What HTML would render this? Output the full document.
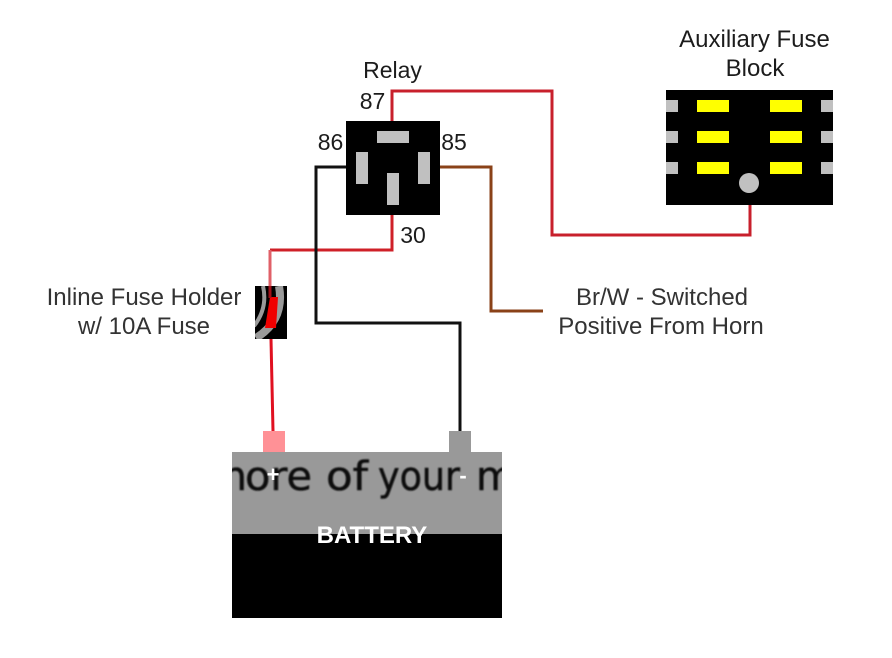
<!DOCTYPE html>
<html><head><meta charset="utf-8"><style>
html,body{margin:0;padding:0;background:#fff}
svg{display:block}
text{font-family:"Liberation Sans",sans-serif;font-size:24px;fill:#1c1c1c}
.big{font-family:"DejaVu Sans",sans-serif;font-size:40px;fill:#111;stroke:#111;stroke-width:.5}
</style></head><body>
<svg width="892" height="658" viewBox="0 0 892 658" xmlns="http://www.w3.org/2000/svg">
<defs><clipPath id="b"><rect x="232" y="452" width="270" height="82"/></clipPath>
<clipPath id="f"><rect x="255" y="286" width="32" height="53"/></clipPath>
<filter id="s" x="-10%" y="-10%" width="120%" height="120%"><feGaussianBlur stdDeviation="0.7"/></filter></defs>
<rect width="892" height="658" fill="#fff"/>
<!-- wires -->
<g fill="none" stroke-width="3">
<path d="M392 121V91H552V235H750V205" stroke="#c8202c"/>
<path d="M392 215V250H270" stroke="#cf2028"/>
<path d="M270 250V286" stroke="#e06068"/>
<path d="M271 339L273 431" stroke="#e01020"/>
<path d="M346 167H316V323H460V431" stroke="#111"/>
<path d="M440 167H491V311H543" stroke="#8a4218"/>
</g>
<!-- relay -->
<rect x="346" y="121" width="94" height="94" fill="#000"/>
<g fill="#c0c0c0">
<rect x="377" y="131" width="32" height="12"/>
<rect x="356" y="152" width="12" height="32"/>
<rect x="418" y="152" width="12" height="32"/>
<rect x="387" y="173" width="12" height="32"/>
</g>
<!-- fuse block -->
<rect x="666" y="90" width="167" height="115" fill="#000"/>
<g fill="#c0c0c0">
<rect x="666" y="100" width="12" height="12"/><rect x="666" y="131" width="12" height="12"/><rect x="666" y="162" width="12" height="12"/>
<rect x="821" y="100" width="12" height="12"/><rect x="821" y="131" width="12" height="12"/><rect x="821" y="162" width="12" height="12"/>
<circle cx="749" cy="183" r="10"/>
</g>
<g fill="#ffff00">
<rect x="697" y="100" width="32" height="12"/><rect x="770" y="100" width="32" height="12"/>
<rect x="697" y="131" width="32" height="12"/><rect x="770" y="131" width="32" height="12"/>
<rect x="697" y="162" width="32" height="12"/><rect x="770" y="162" width="32" height="12"/>
</g>
<!-- fuse holder -->
<rect x="255" y="286" width="32" height="53" fill="#000"/>
<g clip-path="url(#f)" fill="none" stroke="#9a9a9a">
<path d="M263 286Q268 308 254 326" stroke-width="4"/>
<path d="M279 286Q285 320 256 338" stroke-width="8"/>
</g>
<path d="M270 297H278L276 328H265Z" fill="#f00000"/>
<path d="M270 286V298" stroke="#a01018" stroke-width="3"/>
<!-- battery -->
<rect x="263" y="431" width="22" height="21" fill="#ff9196"/>
<rect x="449" y="431" width="22" height="21" fill="#999"/>
<rect x="232" y="452" width="270" height="82" fill="#999"/>
<rect x="232" y="534" width="270" height="84" fill="#000"/>
<g clip-path="url(#b)"><g filter="url(#s)">
<text class="big" x="208" y="490">m</text>
<text class="big" x="245" y="490" textLength="67" lengthAdjust="spacingAndGlyphs">ore</text>
<text class="big" x="326" y="490" textLength="42" lengthAdjust="spacingAndGlyphs">of</text>
<text class="big" x="378" y="490" textLength="82" lengthAdjust="spacingAndGlyphs">your</text>
<text class="big" x="476" y="490">m</text>
</g></g>
<text x="273" y="482" text-anchor="middle" style="fill:#fff;font-weight:bold;font-size:22px">+</text>
<text x="463" y="483" text-anchor="middle" style="fill:#fff;font-weight:bold;font-size:22px">-</text>
<text x="372" y="543" text-anchor="middle" style="fill:#fff;font-weight:bold;font-size:24px">BATTERY</text>
<!-- labels -->
<text x="754.5" y="47" text-anchor="middle">Auxiliary Fuse</text>
<text x="755" y="76" text-anchor="middle">Block</text>
<text x="392.5" y="78" text-anchor="middle" style="font-size:23px">Relay</text>
<text x="372.5" y="109" text-anchor="middle" style="font-size:23px">87</text>
<text x="330.5" y="150" text-anchor="middle" style="font-size:23px">86</text>
<text x="454" y="150" text-anchor="middle" style="font-size:23px">85</text>
<text x="413" y="243" text-anchor="middle" style="font-size:23px">30</text>
<text x="144" y="305" text-anchor="middle" style="fill:#333">Inline Fuse Holder</text>
<text x="144" y="334" text-anchor="middle" style="fill:#333">w/ 10A Fuse</text>
<text x="662" y="305" text-anchor="middle" style="fill:#333">Br/W - Switched</text>
<text x="661" y="334" text-anchor="middle" style="fill:#333">Positive From Horn</text>
</svg>
</body></html>
